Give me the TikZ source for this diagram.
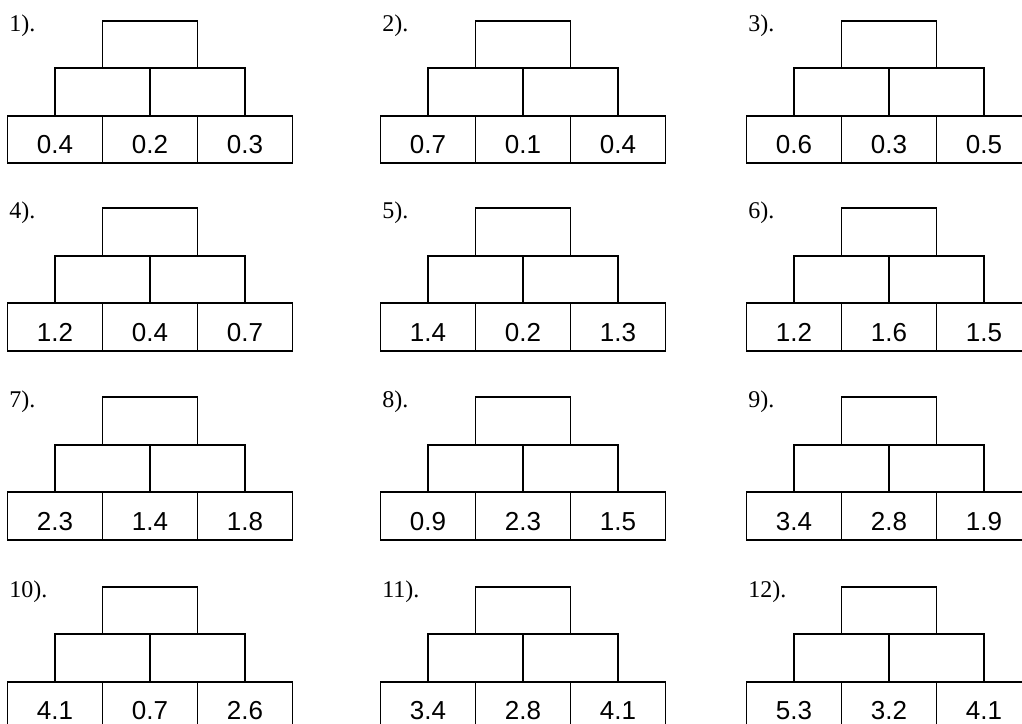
\documentclass[tikz,border=0pt]{standalone}
\usepackage{fontspec}
\setmainfont{Liberation Serif}
\newfontfamily\numfont{Liberation Sans}
\usepackage{tikz}
\usetikzlibrary{positioning}

\tikzset{
    cell/.style={draw, rectangle, line width=1.3pt, minimum width=71.25pt,
        minimum height=35.6pt, inner sep=0pt, text height=21.8pt, text depth=0pt,
        font=\numfont\fontsize{19.5}{19.5}\selectfont},
    tag/.style={anchor=base west, inner sep=0pt, font=\fontsize{18}{18}\selectfont}
}

% one pyramid: id, centre x, top y, bottom values
\newcommand{\pyr}[6]{%
    \node[tag] (p#1lbl) at ({#2-141},{#3+10.5}) {#1).};
    \node[cell] (p#1t) at (#2,{#3+23.75}) {};
    \node[cell] (p#1ml) at ({#2-47.5},{#3+71.25}) {};
    \node[cell] (p#1mr) at ({#2+47.5},{#3+71.25}) {};
    \node[cell] (p#1bl) at ({#2-95},{#3+118.75}) {#4};
    \node[cell] (p#1bm) at (#2,{#3+118.75}) {#5};
    \node[cell] (p#1br) at ({#2+95},{#3+118.75}) {#6};
}

\begin{document}
\begin{tikzpicture}[x=0.75pt, y=-0.75pt]

    \useasboundingbox (0,0) rectangle (1022,724);
    \clip (0,0) rectangle (1022,724);

    % Pyramids
    \pyr{1}{150}{20.7}{0.4}{0.2}{0.3}
    \pyr{2}{523}{20.7}{0.7}{0.1}{0.4}
    \pyr{3}{889}{20.7}{0.6}{0.3}{0.5}

    \pyr{4}{150}{208.3}{1.2}{0.4}{0.7}
    \pyr{5}{523}{208.3}{1.4}{0.2}{1.3}
    \pyr{6}{889}{208.3}{1.2}{1.6}{1.5}

    \pyr{7}{150}{397.3}{2.3}{1.4}{1.8}
    \pyr{8}{523}{397.3}{0.9}{2.3}{1.5}
    \pyr{9}{889}{397.3}{3.4}{2.8}{1.9}

    \pyr{10}{150}{586.7}{4.1}{0.7}{2.6}
    \pyr{11}{523}{586.7}{3.4}{2.8}{4.1}
    \pyr{12}{889}{586.7}{5.3}{3.2}{4.1}

\end{tikzpicture}
\end{document}
